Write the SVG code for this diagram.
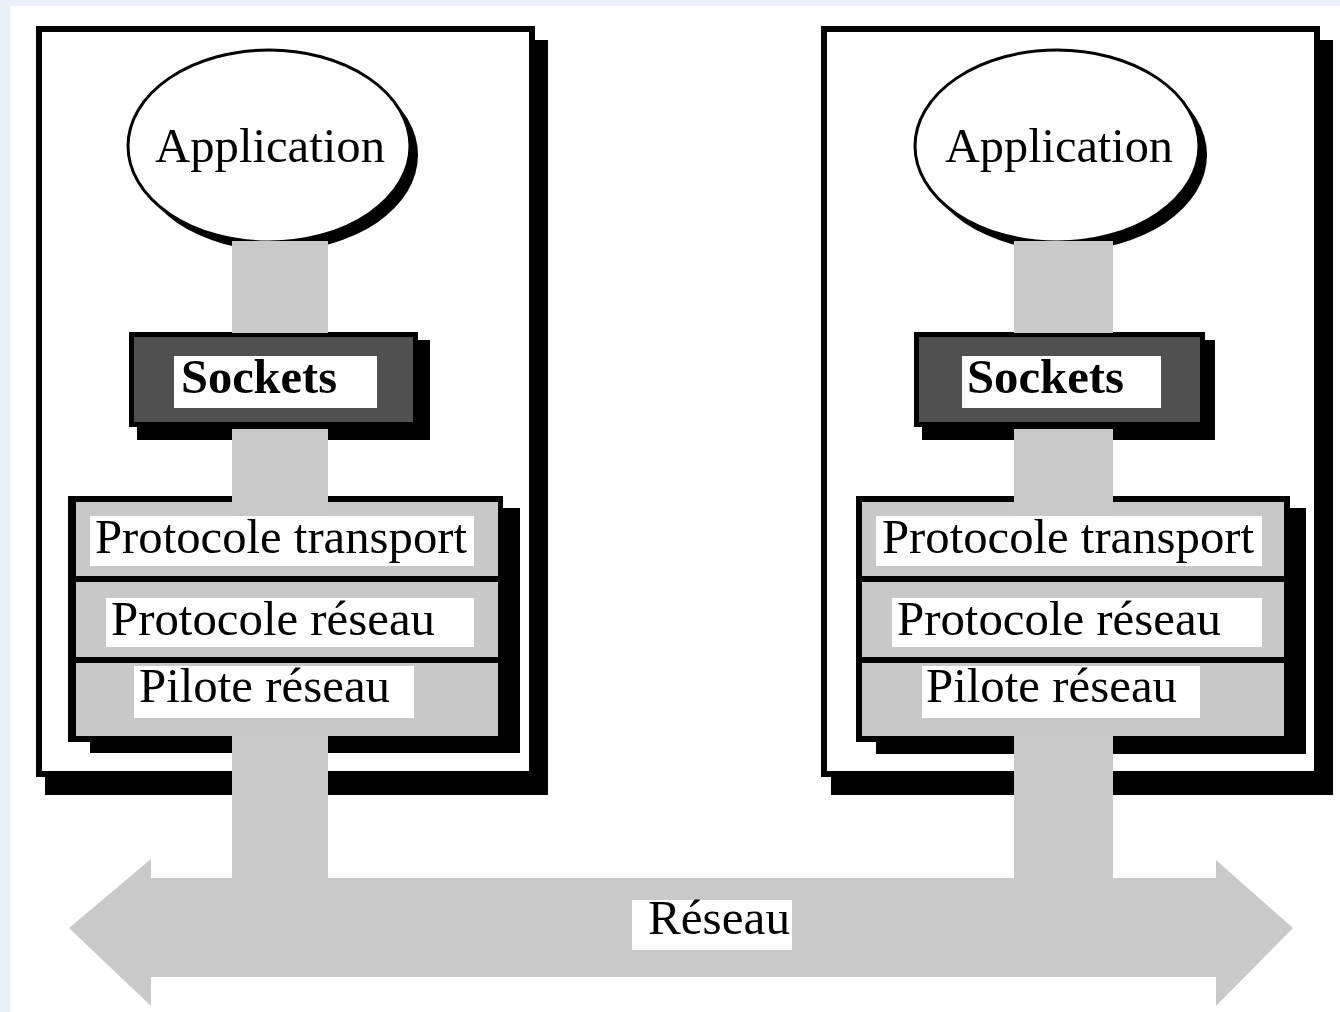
<svg xmlns="http://www.w3.org/2000/svg" width="1340" height="1012" viewBox="0 0 1340 1012">
  <style>
    .bg { fill: #eaf0f7; }
    .page { fill: #ffffff; }
    .shadow { fill: #000000; }
    .frame { fill: #ffffff; stroke: #000000; stroke-width: 6; }
    .app { fill: #ffffff; stroke: #000000; stroke-width: 3; }
    .sock { fill: #505050; stroke: #000000; stroke-width: 5; }
    .stack { fill: #000000; }
    .row { fill: #c8c8c8; }
    .label { fill: #ffffff; }
    .bar { fill: #c9c9c9; }
    text { font-family: "Liberation Serif", "Times New Roman", serif; font-size: 48px; fill: #000000; }
    .bold { font-weight: bold; }
  </style>

  <!-- backdrop -->
  <rect class="bg" x="0" y="0" width="1340" height="1012"/>
  <rect class="page" x="10" y="6" width="1330" height="1006"/>

  <!-- left host -->
  <g id="host-left">
    <rect class="shadow" x="45" y="40" width="503" height="755"/>
    <rect class="frame" x="39" y="29" width="493" height="745"/>
  </g>

  <!-- right host -->
  <g id="host-right">
    <rect class="shadow" x="831" y="40" width="502" height="755"/>
    <rect class="frame" x="824" y="29" width="493" height="745"/>
  </g>

  <g id="app-left">
    <ellipse class="shadow" cx="277" cy="155" rx="141" ry="96"/>
    <ellipse class="app" cx="269" cy="146" rx="141" ry="96"/>
    <text x="155" y="162" textLength="230" lengthAdjust="spacingAndGlyphs">Application</text>
  </g>

  <g id="app-right">
    <ellipse class="shadow" cx="1065" cy="155" rx="142" ry="96"/>
    <ellipse class="app" cx="1057" cy="146" rx="142" ry="96"/>
    <text x="945" y="162" textLength="228" lengthAdjust="spacingAndGlyphs">Application</text>
  </g>

  <g id="sockets-left">
    <rect class="shadow" x="137" y="340" width="293" height="100"/>
    <rect class="sock" x="131.5" y="334.5" width="284" height="90"/>
    <rect class="label" x="174" y="356" width="203" height="52"/>
    <text class="bold" x="181" y="393" textLength="156" lengthAdjust="spacingAndGlyphs">Sockets</text>
  </g>

  <g id="sockets-right">
    <rect class="shadow" x="922" y="340" width="293" height="100"/>
    <rect class="sock" x="916.5" y="334.5" width="286" height="90"/>
    <rect class="label" x="962" y="356" width="199" height="52"/>
    <text class="bold" x="967" y="393" textLength="157" lengthAdjust="spacingAndGlyphs">Sockets</text>
  </g>

  <g id="stack-left">
    <rect class="shadow" x="90" y="508" width="430" height="245"/>
    <rect class="stack" x="68" y="496" width="435" height="246"/>
    <rect class="row" x="76" y="502" width="422" height="74"/>
    <rect class="row" x="76" y="582" width="422" height="75"/>
    <rect class="row" x="76" y="663" width="422" height="73"/>
    <rect class="label" x="90" y="516" width="384" height="50"/>
    <rect class="label" x="106" y="598" width="368" height="49"/>
    <rect class="label" x="134" y="666" width="280" height="52"/>
    <text x="95" y="553" textLength="372" lengthAdjust="spacingAndGlyphs">Protocole transport</text>
    <text x="111" y="635" textLength="324" lengthAdjust="spacingAndGlyphs">Protocole réseau</text>
    <text x="139" y="702" textLength="251" lengthAdjust="spacingAndGlyphs">Pilote réseau</text>
  </g>

  <g id="stack-right">
    <rect class="shadow" x="876" y="508" width="430" height="246"/>
    <rect class="stack" x="856" y="496" width="434" height="246"/>
    <rect class="row" x="862" y="502" width="422" height="74"/>
    <rect class="row" x="862" y="582" width="422" height="75"/>
    <rect class="row" x="862" y="663" width="422" height="73"/>
    <rect class="label" x="876" y="516" width="386" height="50"/>
    <rect class="label" x="892" y="598" width="370" height="49"/>
    <rect class="label" x="922" y="666" width="278" height="52"/>
    <text x="882" y="553" textLength="372" lengthAdjust="spacingAndGlyphs">Protocole transport</text>
    <text x="897" y="635" textLength="324" lengthAdjust="spacingAndGlyphs">Protocole réseau</text>
    <text x="926" y="702" textLength="251" lengthAdjust="spacingAndGlyphs">Pilote réseau</text>
  </g>

  <!-- grey links between the layers and down to the network -->
  <g id="connectors">
    <rect class="bar" x="232" y="241" width="96" height="92"/>
    <rect class="bar" x="232" y="429" width="96" height="87"/>
    <rect class="bar" x="232" y="736" width="96" height="145"/>
    <rect class="bar" x="1014" y="241" width="99" height="92"/>
    <rect class="bar" x="1014" y="429" width="99" height="87"/>
    <rect class="bar" x="1014" y="736" width="99" height="145"/>
  </g>

  <g id="network">
    <polygon class="bar" points="69,928 151,859 151,878 1216,878 1216,860 1293,928 1216,1006 1216,977 151,977 151,1006"/>
    <rect class="label" x="632" y="900" width="160" height="50"/>
    <text x="648" y="934" textLength="142" lengthAdjust="spacingAndGlyphs">Réseau</text>
  </g>
</svg>
